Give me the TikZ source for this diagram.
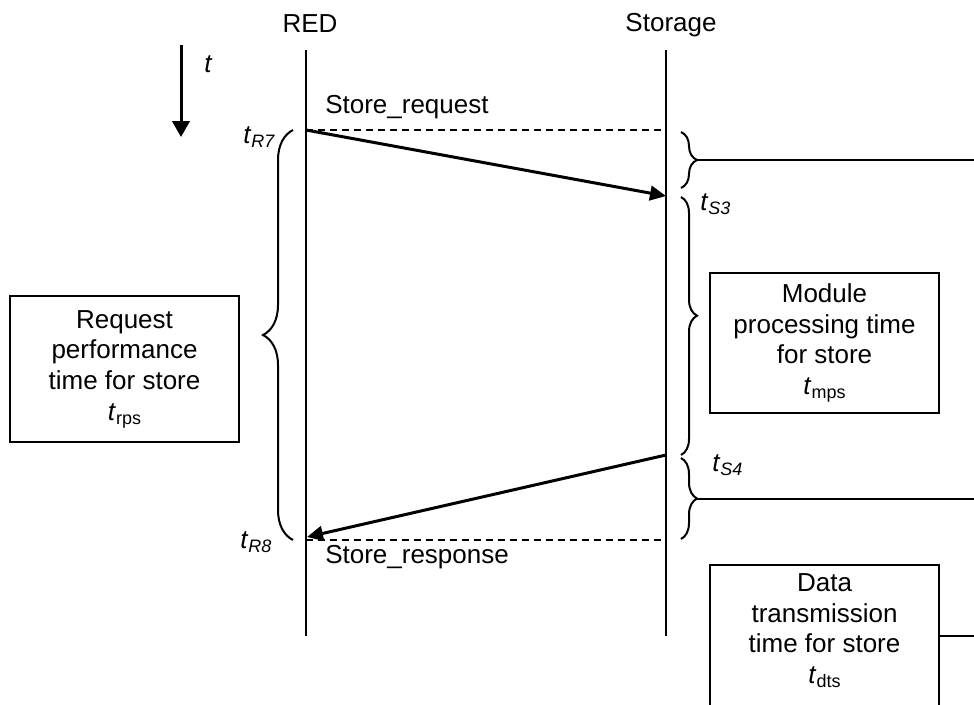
\documentclass[tikz,border=0pt]{standalone}
\usepackage{fontspec}
\setmainfont{Liberation Sans}
\usetikzlibrary{arrows.meta,decorations.pathreplacing,positioning}

% time points and durations: italic t with a lowered small index
\newcommand{\tev}[1]{\textit{t}\raisebox{-3pt}{\fontsize{13.5}{14}\selectfont\itshape #1}}
\newcommand{\tdur}[1]{\textit{t}\raisebox{-3pt}{\fontsize{13.5}{14}\selectfont #1}}

\tikzset{
    lbl/.style={inner sep=0pt, font=\fontsize{19.5}{23}\selectfont},
    lifeline/.style={line width=1.5pt},
    msg/.style={line width=2.25pt, -{Triangle[length=12pt,width=11pt]}},
    dashmsg/.style={line width=1.5pt, dash pattern=on 5.5pt off 3.5pt},
    tbox/.style={draw, line width=1.5pt, minimum width=171.75pt, align=center,
        inner sep=0pt, font=\fontsize{19.5}{23}\selectfont},
    tbrace/.style={decorate, line width=1.5pt, decoration={brace, amplitude=#1}},
    link/.style={line width=1.5pt}
}

\begin{document}
\begin{tikzpicture}[x=0.75pt, y=-0.75pt]
    \clip (0,0) rectangle (974,704);

    % Lifelines
    \node[lbl, anchor=base] (red) at (310,32) {RED};
    \node[lbl, anchor=base] (storage) at (671,31) {Storage};
    \coordinate (redtop) at (306,50);
    \coordinate (redbot) at (306,636);
    \coordinate (sttop) at (666,50);
    \coordinate (stbot) at (666,636);
    \draw[lifeline] (redtop) -- (redbot);
    \draw[lifeline] (sttop) -- (stbot);

    % Time axis
    \coordinate (ttop) at (181,45);
    \coordinate (tbot) at (181,137);
    \draw[line width=2.25pt, -{Triangle[length=12pt,width=13pt]}] (ttop) -- (tbot);
    \node[lbl, anchor=base west] (tlbl) at (204,72) {\textit{t}};

    % Request and response
    \coordinate (r7) at (306,130);
    \coordinate (r7s) at (666,130);
    \coordinate (s3) at (666,196);
    \coordinate (s4) at (666,455);
    \coordinate (r8) at (307,537);
    \coordinate (r8r) at (306,540);
    \coordinate (r8s) at (666,540);
    \draw[dashmsg] (r7) -- (r7s);
    \draw[dashmsg] (r8r) -- (r8s);
    \draw[msg] (r7) -- (s3);
    \draw[msg] (s4) -- (r8);
    \node[lbl, anchor=base west] (req) at (325,113) {Store\_request};
    \node[lbl, anchor=base west] (resp) at (325,563) {Store\_response};

    % Time points
    \node[lbl, anchor=base west] (tr7) at (243,143) {\tev{R7}};
    \node[lbl, anchor=base west] (tr8) at (240,548) {\tev{R8}};
    \node[lbl, anchor=base west] (ts3) at (700,210) {\tev{S3}};
    \node[lbl, anchor=base west] (ts4) at (712,471) {\tev{S4}};

    % Request performance time (RED side)
    \draw[tbrace=22.5pt] (293,540) -- (293,130);
    \node[tbox, minimum height=109.5pt] (rps) at (124.5,369)
        {Request\\performance\\time for store\\\tdur{rps}};

    % Storage side
    \draw[tbrace=12pt] (681,132) -- (681,188);
    \draw[tbrace=12pt, decoration={aspect=0.46}] (681,197) -- (681,455);
    \draw[tbrace=12pt] (681,458) -- (681,539);
    \node[tbox, minimum height=105pt] (mps) at (824.5,343)
        {Module\\processing time\\for store\\\tdur{mps}};
    \node[tbox, minimum height=106.5pt, anchor=north] (dtsbox) at (824.5,564) {};
    \node[lbl, align=center, below=7pt of dtsbox.north] (dts)
        {Data\\transmission\\time for store\\\tdur{dts}};

    % Links to the right
    \coordinate (tipA) at (697,160);
    \coordinate (edgeA) at (974,160);
    \coordinate (tipB) at (697,499);
    \coordinate (edgeB) at (974,499);
    \coordinate (edgeC) at (974,635);
    \draw[link] (tipA) -- (edgeA);
    \draw[link] (tipB) -- (edgeB);
    \draw[link] (dtsbox.east) -- (dtsbox.east -| edgeC);
\end{tikzpicture}
\end{document}
